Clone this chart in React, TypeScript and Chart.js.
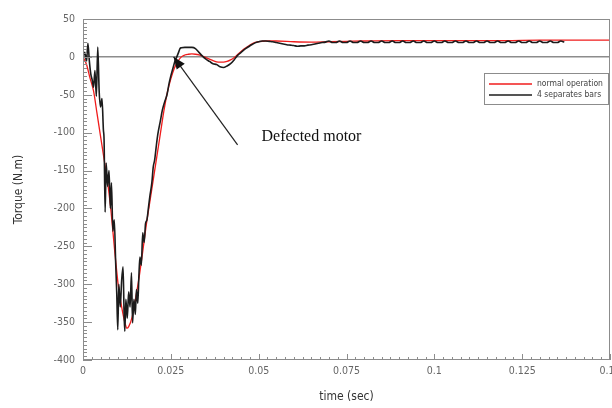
import { useEffect, useRef } from "react";
import { Chart, registerables } from "chart.js";

Chart.register(...registerables);

const seriesLabels = ["normal operation", "4 separates bars"];
const seriesColors = ["#f01c1c", "#1c1c1c"];

const redTime = [
  0, 0.001, 0.002, 0.003, 0.004, 0.005, 0.006, 0.007, 0.008, 0.009, 0.01, 0.011, 0.012, 0.0125, 0.013,
  0.014, 0.015, 0.016, 0.017, 0.018, 0.019, 0.02, 0.021, 0.022, 0.023, 0.024, 0.025, 0.026, 0.027, 0.028,
  0.029, 0.03, 0.031, 0.032, 0.033, 0.034, 0.035, 0.036, 0.037, 0.038, 0.039, 0.04, 0.041, 0.042, 0.043,
  0.044, 0.045, 0.046, 0.047, 0.048, 0.049, 0.05, 0.052, 0.055, 0.06, 0.065, 0.07, 0.075, 0.08, 0.09,
  0.1, 0.11, 0.12, 0.13, 0.14, 0.15,
];
const redTorque = [
  0, -10, -28, -45, -75, -105, -135, -165, -205, -255, -300, -330, -352, -358, -356,
  -343, -318, -290, -257, -222, -192, -162, -132, -102, -72, -47, -29, -15, -6, 0,
  2.5, 3.5, 4, 3.5, 2.5, 1, -1, -3, -5, -6.5, -7, -7, -6, -4, -1,
  3, 7, 11, 14, 17, 19, 20, 21, 21, 20, 19.5, 20, 20.5, 21, 21.5,
  21.5, 21.5, 21.5, 22, 22, 22,
];

const blackTime = [
  0, 0.0005, 0.001, 0.0014, 0.0018, 0.0022, 0.0026, 0.003, 0.0034, 0.0038, 0.0042, 0.0046, 0.005, 0.0054,
  0.0058, 0.006, 0.0063, 0.0066, 0.007, 0.0074, 0.0078, 0.0081, 0.0085, 0.0089, 0.0093, 0.0096, 0.0099,
  0.0102, 0.0106, 0.011, 0.0114, 0.0117, 0.0119, 0.0122, 0.0126, 0.013, 0.0134, 0.0138, 0.0141, 0.0145,
  0.0149, 0.0152, 0.0156, 0.0159, 0.0162, 0.0166, 0.017, 0.0174, 0.0178, 0.0182, 0.0186, 0.019, 0.0196,
  0.02, 0.0204, 0.0208, 0.0213, 0.022, 0.0226, 0.0232, 0.0239, 0.0245, 0.025, 0.0256, 0.0262, 0.0267,
  0.0272, 0.0276, 0.028, 0.029, 0.03, 0.031, 0.032, 0.033, 0.034, 0.035, 0.036, 0.037, 0.038, 0.039,
  0.04, 0.041, 0.042, 0.043, 0.044, 0.045, 0.046, 0.047, 0.048, 0.049, 0.05, 0.051, 0.052, 0.053, 0.054,
  0.055, 0.056, 0.057, 0.058, 0.059, 0.06, 0.061, 0.062, 0.063, 0.064, 0.065, 0.066, 0.067, 0.068, 0.069,
  0.07, 0.071, 0.072, 0.073, 0.074, 0.075, 0.076, 0.077, 0.078, 0.079, 0.08, 0.081, 0.082, 0.083, 0.084,
  0.085, 0.086, 0.087, 0.088, 0.089, 0.09, 0.091, 0.092, 0.093, 0.094, 0.095, 0.096, 0.097, 0.098, 0.099,
  0.1, 0.101, 0.102, 0.103, 0.104, 0.105, 0.106, 0.107, 0.108, 0.109, 0.11, 0.111, 0.112, 0.113, 0.114,
  0.115, 0.116, 0.117, 0.118, 0.119, 0.12, 0.121, 0.122, 0.123, 0.124, 0.125, 0.126, 0.127, 0.128, 0.129,
  0.13, 0.131, 0.132, 0.133, 0.134, 0.135, 0.136, 0.137,
];
const blackTorque = [
  0, 6, -6, 18, -5, -22, -30, -40, -18, -52, 13, -45, -66, -55,
  -96, -110, -205, -140, -171, -150, -200, -166, -230, -215, -272, -311, -360,
  -300, -330, -295, -277, -340, -362, -320, -345, -310, -330, -285, -351, -320,
  -340, -307, -325, -290, -264, -275, -232, -245, -220, -215, -200, -185, -166,
  -145, -136, -120, -102, -85, -70, -60, -50, -35, -25, -15, -5, 0,
  6, 11, 12, 12.5, 12.5, 12.5, 11, 6, 1, -3, -6, -9, -10, -13,
  -14, -12, -9, -4, 2, 6, 10, 13, 16, 18.5, 20, 21, 21, 20.5, 20,
  19, 18, 17, 16, 15.5, 15, 14, 14.5, 14.5, 15.5, 16, 17, 18, 19, 19.5,
  21, 19, 19, 21, 19, 19, 21, 19, 19, 21, 19, 19, 21, 19, 19,
  21, 19, 19, 21, 19, 19, 21, 19, 19, 21, 19, 19, 21, 19, 19,
  21, 19, 19, 21, 19, 19, 21, 19, 19, 21, 19, 19, 21, 19, 19,
  21, 19, 19, 21, 19, 19, 21, 19, 19, 21, 19, 19, 21, 19, 19,
  21, 19, 19, 21, 19, 19, 21, 19.5,
];

const xTickValues = [0, 0.025, 0.05, 0.075, 0.1, 0.125, 0.15];
const yTickValues = [50, 0, -50, -100, -150, -200, -250, -300, -350, -400];
const xTitle = "time (sec)";
const yTitle = "Torque (N.m)";
const annotationText = "Defected motor";
// annotation anchor points in data units: [time, torque]
const arrowTip = [0.0258, 0];
const arrowTail = [0.044, -116];
const annotationAnchor = [0.0508, -111];

const tickFont = "'DejaVu Sans Condensed', 'Liberation Sans', sans-serif";

export default function App() {
  const canvasRef = useRef<HTMLCanvasElement | null>(null);

  useEffect(() => {
    const canvas = canvasRef.current;
    if (!canvas) return;

    const decorPlugin = {
      id: "decor",
      afterDraw(chart: any) {
        const ctx = chart.ctx as CanvasRenderingContext2D;
        const area = chart.chartArea;
        const xs = chart.scales.x;
        const ys = chart.scales.y;
        ctx.save();
        // frame
        ctx.strokeStyle = "#8c8c8c";
        ctx.lineWidth = 1;
        ctx.strokeRect(area.left + 0.5, area.top + 0.5, area.right - area.left - 1, area.bottom - area.top - 1);
        // y ticks (inside, pointing right)
        ctx.beginPath();
        for (let v = ys.min; v <= ys.max + 1e-9; v += 5) {
          const py = Math.round(ys.getPixelForValue(v)) + 0.5;
          const major = Math.abs(v % 50) < 1e-6;
          ctx.moveTo(area.left, py);
          ctx.lineTo(area.left + (major ? 9 : 4), py);
        }
        // x ticks (inside, pointing up)
        for (let i = 0; i <= 60; i++) {
          const v = xs.min + i * 0.0025;
          const px = Math.round(xs.getPixelForValue(v)) + 0.5;
          const major = i % 10 === 0;
          ctx.moveTo(px, area.bottom);
          ctx.lineTo(px, area.bottom - (major ? 6 : 3));
        }
        ctx.stroke();

        // legend
        const lw = 124;
        const lh = 31;
        const lx = area.right - lw - 2;
        const ly = area.top + 54;
        ctx.fillStyle = "#ffffff";
        ctx.fillRect(lx, ly, lw, lh);
        ctx.strokeStyle = "#8c8c8c";
        ctx.strokeRect(lx + 0.5, ly + 0.5, lw, lh);
        ctx.font = `8.5px ${tickFont}`;
        ctx.textBaseline = "middle";
        ctx.textAlign = "left";
        seriesLabels.forEach((label, i) => {
          const yy = ly + 11 + i * 11;
          ctx.strokeStyle = seriesColors[i];
          ctx.lineWidth = 1.6;
          ctx.beginPath();
          ctx.moveTo(lx + 5, yy);
          ctx.lineTo(lx + 48, yy);
          ctx.stroke();
          ctx.fillStyle = "#444";
          ctx.fillText(label, lx + 53, yy);
        });

        // annotation arrow
        const tx = xs.getPixelForValue(arrowTip[0]);
        const ty = ys.getPixelForValue(arrowTip[1]);
        const sx = xs.getPixelForValue(arrowTail[0]);
        const sy = ys.getPixelForValue(arrowTail[1]);
        ctx.strokeStyle = "#222";
        ctx.lineWidth = 1.2;
        ctx.beginPath();
        ctx.moveTo(sx, sy);
        ctx.lineTo(tx, ty);
        ctx.stroke();
        const ang = Math.atan2(ty - sy, tx - sx);
        const hl = 12;
        const hw = 5;
        ctx.fillStyle = "#111";
        ctx.beginPath();
        ctx.moveTo(tx, ty);
        ctx.lineTo(tx - hl * Math.cos(ang) + hw * Math.sin(ang), ty - hl * Math.sin(ang) - hw * Math.cos(ang));
        ctx.lineTo(tx - hl * Math.cos(ang) - hw * Math.sin(ang), ty - hl * Math.sin(ang) + hw * Math.cos(ang));
        ctx.closePath();
        ctx.fill();

        ctx.font = "16px 'Liberation Serif', 'Times New Roman', serif";
        ctx.fillStyle = "#111";
        ctx.textBaseline = "alphabetic";
        ctx.fillText(annotationText, xs.getPixelForValue(annotationAnchor[0]), ys.getPixelForValue(annotationAnchor[1]));
        ctx.restore();
      },
    };

    const chart = new Chart(canvas, {
      type: "line",
      data: {
        datasets: [
          {
            label: seriesLabels[0],
            data: redTime.map((t, i) => ({ x: t, y: redTorque[i] })),
            borderColor: seriesColors[0],
            borderWidth: 1.3,
            pointRadius: 0,
            cubicInterpolationMode: "monotone",
            order: 2,
          },
          {
            label: seriesLabels[1],
            data: blackTime.map((t, i) => ({ x: t, y: blackTorque[i] })),
            borderColor: seriesColors[1],
            borderWidth: 1.6,
            pointRadius: 0,
            cubicInterpolationMode: "monotone",
            order: 1,
          },
        ],
      },
      options: {
        animation: false,
        responsive: false,
        maintainAspectRatio: false,
        layout: { padding: { left: 0, right: 2, top: 19, bottom: 0 } },
        plugins: { legend: { display: false }, tooltip: { enabled: false } },
        scales: {
          x: {
            type: "linear",
            min: 0,
            max: 0.15,
            afterBuildTicks: (s: any) => {
              s.ticks = xTickValues.map((v) => ({ value: v }));
            },
            afterFit: (s: any) => {
              s.height = 48;
              s.paddingLeft = 0;
              s.paddingRight = 0;
            },
            grid: { display: false, drawTicks: false },
            border: { display: false },
            ticks: {
              padding: 5,
              maxRotation: 0,
              autoSkip: false,
              color: "#666",
              font: { family: tickFont, size: 10.5 },
              callback: (v: any) => String(+Number(v).toFixed(3)),
            },
            title: {
              display: true,
              text: xTitle,
              color: "#333",
              font: { family: "'DejaVu Sans Condensed', 'DejaVu Sans', sans-serif", size: 12 },
              padding: { top: 2, bottom: 4 },
            },
          },
          y: {
            type: "linear",
            min: -400,
            max: 50,
            afterBuildTicks: (s: any) => {
              s.ticks = yTickValues.map((v) => ({ value: v }));
            },
            afterFit: (s: any) => {
              s.width = 83;
              s.paddingTop = 0;
              s.paddingBottom = 0;
            },
            grid: {
              drawTicks: false,
              lineWidth: 1.5,
              color: (c: any) => (c.tick && c.tick.value === 0 ? "#8c8c8c" : "rgba(0,0,0,0)"),
            },
            border: { display: false },
            ticks: {
              padding: 8,
              autoSkip: false,
              color: "#666",
              font: { family: tickFont, size: 10.5 },
              callback: (v: any) => String(v),
            },
            title: {
              display: true,
              text: yTitle,
              color: "#333",
              font: { family: "'DejaVu Sans Condensed', 'DejaVu Sans', sans-serif", size: 12 },
              padding: { top: 12, bottom: 0 },
            },
          },
        },
      },
      plugins: [decorPlugin],
    });

    return () => chart.destroy();
  }, []);

  return (
    <div style={{ position: "absolute", left: 0, top: 0, width: 612, height: 408, background: "#fff" }}>
      <canvas ref={canvasRef} width={612} height={408} style={{ display: "block" }} />
    </div>
  );
}
